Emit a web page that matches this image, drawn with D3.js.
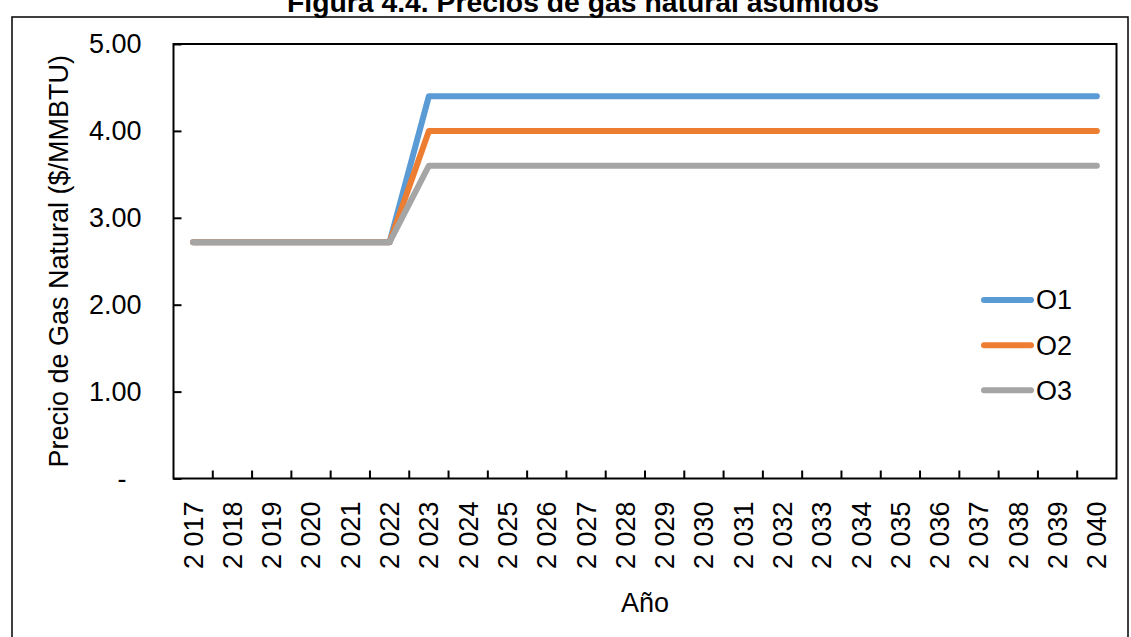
<!DOCTYPE html>
<html>
<head>
<meta charset="utf-8">
<script src="https://cdn.jsdelivr.net/npm/d3@7"></script>
<style>
  html, body { margin: 0; padding: 0; background: #fff; }
  svg { display: block; font-family: "Liberation Sans", Arial, sans-serif; }
</style>
</head>
<body>
<svg id="chart" width="1131" height="637"></svg>
<script>
// Años del horizonte de planificación
const years = ["2017","2018","2019","2020","2021","2022","2023","2024","2025","2026","2027","2028",
               "2029","2030","2031","2032","2033","2034","2035","2036","2037","2038","2039","2040"];

// Precio de gas natural ($/MMBTU) por escenario
const o1 = [2.72,2.72,2.72,2.72,2.72,2.72,4.40,4.40,4.40,4.40,4.40,4.40,4.40,4.40,4.40,4.40,4.40,4.40,4.40,4.40,4.40,4.40,4.40,4.40];
const o2 = [2.72,2.72,2.72,2.72,2.72,2.72,4.00,4.00,4.00,4.00,4.00,4.00,4.00,4.00,4.00,4.00,4.00,4.00,4.00,4.00,4.00,4.00,4.00,4.00];
const o3 = [2.72,2.72,2.72,2.72,2.72,2.72,3.60,3.60,3.60,3.60,3.60,3.60,3.60,3.60,3.60,3.60,3.60,3.60,3.60,3.60,3.60,3.60,3.60,3.60];

const seriesNames = ["O1","O2","O3"];
const seriesColors = ["#5B9BD5","#ED7D31","#A5A5A5"];
const yTicks = [0,1,2,3,4,5];

(function draw() {
  const series = [o1, o2, o3].map((vals, i) => ({ name: seriesNames[i], color: seriesColors[i], values: vals }));

  const svg = d3.select("#chart");

  // Marco exterior de la figura
  svg.append("rect")
    .attr("x", 12).attr("y", 17).attr("width", 1116).attr("height", 640)
    .attr("fill", "none").attr("stroke", "#000").attr("stroke-width", 1.5);

  // Título
  svg.append("text")
    .attr("x", 287).attr("y", 12)
    .attr("textLength", 592).attr("lengthAdjust", "spacingAndGlyphs")
    .attr("font-size", 27).attr("font-weight", "bold")
    .text("Figura 4.4. Precios de gas natural asumidos");

  const plotLeft = 173.5, plotRight = 1116.5, plotTop = 44, plotBottom = 478.5;

  const x = d3.scaleBand().domain(years).range([plotLeft, plotRight]);
  const y = d3.scaleLinear().domain([0, 5]).range([plotBottom, plotTop]);
  const cx = d => x(d) + x.bandwidth() / 2;

  // Eje Y
  const yAxis = svg.append("g")
    .attr("transform", `translate(${plotLeft},0)`)
    .call(d3.axisLeft(y).tickValues(yTicks).tickSizeInner(-8).tickSizeOuter(0).tickPadding(32)
      .tickFormat(v => v === 0 ? "-" : d3.format(".2f")(v)));
  yAxis.select(".domain").remove();
  yAxis.selectAll(".tick line").attr("stroke", "#000").attr("stroke-width", 2);
  yAxis.selectAll(".tick text")
    .attr("font-size", 27).attr("fill", "#000").attr("font-family", "Liberation Sans, Arial, sans-serif")
    .attr("dx", v => v === 0 ? -15 : 0);

  // Eje X: etiquetas rotadas en el centro de cada categoría
  const xAxis = svg.append("g")
    .attr("transform", `translate(0,${plotBottom})`)
    .call(d3.axisBottom(x).tickSize(0).tickFormat(d => d.slice(0,1) + " " + d.slice(1)));
  xAxis.select(".domain").remove();
  xAxis.selectAll(".tick text")
    .attr("font-size", 27).attr("fill", "#000").attr("font-family", "Liberation Sans, Arial, sans-serif")
    .attr("text-anchor", "end")
    .attr("transform", "translate(0,23) rotate(-90)")
    .attr("x", 0).attr("y", 0).attr("dy", "0.35em");

  // Marcas del eje X entre categorías
  svg.append("g").selectAll("line")
    .data(years.slice(1))
    .join("line")
    .attr("x1", d => x(d)).attr("x2", d => x(d))
    .attr("y1", plotBottom).attr("y2", plotBottom - 8)
    .attr("stroke", "#000").attr("stroke-width", 2);

  // Área de trazado
  svg.append("rect")
    .attr("x", plotLeft).attr("y", plotTop).attr("width", plotRight - plotLeft).attr("height", plotBottom - plotTop)
    .attr("fill", "none").attr("stroke", "#000").attr("stroke-width", 2);

  // Títulos de ejes
  svg.append("text")
    .attr("transform", `translate(68,${(plotTop + plotBottom) / 2}) rotate(-90)`)
    .attr("text-anchor", "middle").attr("font-size", 27)
    .text("Precio de Gas Natural ($/MMBTU)");

  svg.append("text")
    .attr("x", (plotLeft + plotRight) / 2).attr("y", 612)
    .attr("text-anchor", "middle").attr("font-size", 27)
    .text("Año");

  // Series
  const line = d3.line().x((v, i) => cx(years[i])).y(v => y(v));
  svg.append("g").selectAll("path")
    .data(series)
    .join("path")
    .attr("d", s => line(s.values))
    .attr("fill", "none")
    .attr("stroke", s => s.color)
    .attr("stroke-width", 6)
    .attr("stroke-linecap", "round")
    .attr("stroke-linejoin", "round");

  // Leyenda
  const legendY = [300, 345.3, 390.3];
  const legend = svg.append("g").selectAll("g")
    .data(series)
    .join("g")
    .attr("transform", (s, i) => `translate(0,${legendY[i]})`);
  legend.append("line")
    .attr("x1", 984).attr("x2", 1031).attr("y1", 0).attr("y2", 0)
    .attr("stroke", s => s.color).attr("stroke-width", 6).attr("stroke-linecap", "round");
  legend.append("text")
    .attr("x", 1036).attr("y", 0).attr("dy", "0.35em")
    .attr("font-size", 27)
    .text(s => s.name);
})();
</script>
</body>
</html>
